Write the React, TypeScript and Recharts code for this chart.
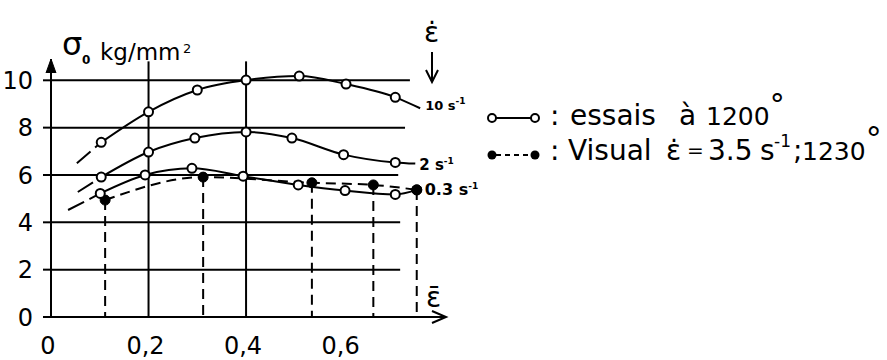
import React from 'react';
import { LineChart, Line, XAxis, YAxis, ReferenceLine, Legend, LabelList } from 'recharts';

// Strain (ε̄) and flow stress σ0 (kg/mm²) — tests at 1200° for three strain rates
const rate10X = [0.103, 0.2, 0.3, 0.4, 0.509, 0.605, 0.706];
const rate10Y = [7.38, 8.67, 9.59, 10.01, 10.18, 9.84, 9.28];
const rate10Lead = [0.053, 6.5];
const rate10Tail = [0.757, 8.82];

const rate2X = [0.103, 0.2, 0.295, 0.4, 0.494, 0.6, 0.706];
const rate2Y = [5.91, 6.97, 7.56, 7.82, 7.56, 6.86, 6.53];
const rate2Lead = [0.055, 5.28];
const rate2Tail = [0.747, 6.48];

const rate03X = [0.101, 0.193, 0.289, 0.394, 0.507, 0.603, 0.706];
const rate03Y = [5.22, 6.0, 6.28, 5.95, 5.58, 5.34, 5.18];
const rate03Lead = [0.035, 4.52];
const rate03Tail = [0.75, 5.37];

// Visual, ε̇ = 3.5 s⁻¹, 1230°
const visualX = [0.111, 0.312, 0.535, 0.661, 0.75];
const visualY = [4.94, 5.91, 5.67, 5.58, 5.37];

const xTicks = [0, 0.2, 0.4, 0.6];
const yTicks = [0, 2, 4, 6, 8, 10];
const gridY = [2, 4, 6, 8, 10];
const gridYEnd = [0.716, 0.716, 0.712, 0.726, 0.736];
const gridX = [0.2, 0.4, 0.6];
const gridXTop = [10.8, 10.8, 10.95];

const FONT = "'DejaVu Sans', sans-serif";

const mk = (xs: number[], ys: number[], tail: number[]) => [
  ...xs.map((x, i) => ({ x, y: ys[i], m: true })),
  { x: tail[0], y: tail[1], m: false },
];
const lead = (start: number[], xs: number[], ys: number[]) => [
  { x: start[0], y: start[1] },
  { x: xs[0], y: ys[0] },
];

const curve10 = mk(rate10X, rate10Y, rate10Tail);
const curve2 = mk(rate2X, rate2Y, rate2Tail);
const curve03 = mk(rate03X, rate03Y, rate03Tail);
const lead10 = lead(rate10Lead, rate10X, rate10Y);
const lead2 = lead(rate2Lead, rate2X, rate2Y);
const lead03 = lead(rate03Lead, rate03X, rate03Y);
const visual = visualX.map((x, i) => ({ x, y: visualY[i] }));

const openDot = (p: any) => {
  if (!p.payload || !p.payload.m) return <g key={`d${p.index}`} />;
  return <circle key={`d${p.index}`} cx={p.cx} cy={p.cy} r={4.5} fill="#fff" stroke="#000" strokeWidth={2} />;
};
const filledDot = (p: any) => (
  <circle key={`f${p.index}`} cx={p.cx} cy={p.cy} r={5} fill="#000" stroke="#000" strokeWidth={1} />
);

const endLabel = (num: string, last: number, dx: number, dy: number, fs: number) => (p: any) => {
  if (p.index !== last) return <g key={`l${p.index}`} />;
  const x = (p.x ?? p.viewBox?.x) + dx;
  const y = (p.y ?? p.viewBox?.y) + dy;
  return (
    <text key={`l${p.index}`} x={x} y={y} fontFamily={FONT} fontWeight="bold" fontSize={fs} fill="#000">
      {num} s<tspan dy={-6} fontSize={9}>-1</tspan>
    </text>
  );
};

const LegendBox = () => (
  <svg width={407} height={90} style={{ overflow: 'visible' }}>
    <line x1={16} y1={28} x2={51} y2={28} stroke="#000" strokeWidth={2} />
    <circle cx={12} cy={28} r={4} fill="#fff" stroke="#000" strokeWidth={2} />
    <circle cx={55} cy={28} r={4} fill="#fff" stroke="#000" strokeWidth={2} />
    <text y={35} fontFamily={FONT} fontSize={28} fill="#000">
      <tspan x={70}>:</tspan>
      <tspan x={90}>essais</tspan>
      <tspan x={199}>à</tspan>
      <tspan x={226} fontSize={25}>1200</tspan>
      <tspan dy={-10} fontSize={30}>°</tspan>
    </text>

    <line x1={16} y1={65} x2={51} y2={65} stroke="#000" strokeWidth={2} strokeDasharray="5 4" />
    <circle cx={12} cy={65} r={4.5} fill="#000" />
    <circle cx={55} cy={65} r={4.5} fill="#000" />
    <text y={70} fontFamily={FONT} fontSize={28} fill="#000">
      <tspan x={70}>:</tspan>
      <tspan x={88}>Visual</tspan>
      <tspan x={186}>{'\u03B5\u0307'}</tspan>
      <tspan x={207} fontSize={20} dy={-3}>=</tspan>
      <tspan x={228} dy={3}>3.5</tspan>
      <tspan x={280}>s</tspan>
      <tspan x={294} dy={-13} fontSize={17}>-1</tspan>
      <tspan x={313} dy={13}>;</tspan>
      <tspan x={322} fontSize={25}>1230</tspan>
      <tspan dy={-10} fontSize={32}>°</tspan>
    </text>
  </svg>
);

export default function App() {
  return (
    <div style={{ position: 'absolute', left: 0, top: 0, background: '#fff' }}>
      <LineChart width={887} height={360} margin={{ top: 59, right: 441, bottom: 0, left: 0 }}>
        <defs>
          <marker id="arrX" markerWidth={18} markerHeight={16} refX={15} refY={8} orient="auto" markerUnits="userSpaceOnUse">
            <path d="M1,2 L15,8 L1,14" fill="none" stroke="#000" strokeWidth={2} />
          </marker>
          <marker id="arrY" markerWidth={14} markerHeight={16} refX={14} refY={7} orient="auto-start-reverse" markerUnits="userSpaceOnUse">
            <path d="M0,2 L14,7 L0,12 Z" fill="#000" stroke="#000" strokeWidth={1} />
          </marker>
          <marker id="arrD" markerWidth={16} markerHeight={16} refX={13} refY={8} orient="auto" markerUnits="userSpaceOnUse">
            <path d="M1,2 L13,8 L1,14" fill="none" stroke="#000" strokeWidth={2} />
          </marker>
        </defs>
        <XAxis
          type="number"
          dataKey="x"
          domain={[0, 0.81]}
          ticks={xTicks}
          allowDataOverflow
          height={43}
          tickLine={false}
          tickSize={0}
          tickMargin={20}
          tickFormatter={(v: number) => String(v).replace('.', ',')}
          tick={{ fill: '#000', fontSize: 24, fontFamily: FONT, dx: -3 }}
          axisLine={{ stroke: '#000', strokeWidth: 2, markerEnd: 'url(#arrX)' }}
        />
        <YAxis
          type="number"
          domain={[0, 10.9]}
          ticks={yTicks}
          allowDataOverflow
          width={51}
          tickSize={8}
          tickMargin={10}
          tick={{ fill: '#000', fontSize: 24, fontFamily: FONT }}
          tickLine={{ stroke: '#000', strokeWidth: 2 }}
          axisLine={{ stroke: '#000', strokeWidth: 2, markerStart: 'url(#arrY)' }}
        />
        {gridY.map((v, i) => (
          <ReferenceLine key={`gy${v}`} segment={[{ x: 0, y: v }, { x: gridYEnd[i], y: v }]} stroke="#000" strokeWidth={2} />
        ))}
        {gridX.map((v, i) => (
          <ReferenceLine key={`gx${v}`} segment={[{ x: v, y: 0 }, { x: v, y: gridXTop[i] }]} stroke="#000" strokeWidth={2} />
        ))}
        {visualX.map((v, i) => (
          <ReferenceLine key={`dv${v}`} segment={[{ x: v, y: visualY[i] }, { x: v, y: 0 }]} stroke="#000" strokeWidth={2} strokeDasharray="10 6" />
        ))}

        <Line data={lead10} dataKey="y" type="linear" stroke="#000" strokeWidth={2} strokeDasharray="18 6" dot={false} isAnimationActive={false} legendType="none" />
        <Line data={lead2} dataKey="y" type="linear" stroke="#000" strokeWidth={2} strokeDasharray="18 6" dot={false} isAnimationActive={false} legendType="none" />
        <Line data={lead03} dataKey="y" type="linear" stroke="#000" strokeWidth={2} strokeDasharray="18 6" dot={false} isAnimationActive={false} legendType="none" />

        <Line data={visual} dataKey="y" name="Visual" type="monotone" stroke="#000" strokeWidth={2} strokeDasharray="10 6" dot={filledDot} isAnimationActive={false} />

        <Line data={curve10} dataKey="y" name="10 s-1" type="monotone" stroke="#000" strokeWidth={2} dot={openDot} isAnimationActive={false}>
          <LabelList dataKey="y" content={endLabel('10', curve10.length - 1, 5, 2, 13)} />
        </Line>
        <Line data={curve2} dataKey="y" name="2 s-1" type="monotone" stroke="#000" strokeWidth={2} dot={openDot} isAnimationActive={false}>
          <LabelList dataKey="y" content={endLabel('2', curve2.length - 1, 4, 6, 15)} />
        </Line>
        <Line data={curve03} dataKey="y" name="0.3 s-1" type="monotone" stroke="#000" strokeWidth={2} dot={openDot} isAnimationActive={false}>
          <LabelList dataKey="y" content={endLabel('0.3', curve03.length - 1, 8, 5, 16)} />
        </Line>
        <Line data={visual.slice(-1)} dataKey="y" type="monotone" stroke="none" dot={filledDot} isAnimationActive={false} legendType="none" />

        <Legend
          layout="vertical"
          align="center"
          verticalAlign="middle"
          wrapperStyle={{ left: 480, top: 90, width: 407, height: 90 }}
          content={() => <LegendBox />}
        />

        {/* axis titles */}
        <text x={62} y={55} fontFamily={FONT} fontSize={32} fill="#000">σ</text>
        <text x={82} y={64} fontFamily={FONT} fontSize={12} fontWeight="bold" fill="#000">0</text>
        <text x={100} y={60} fontFamily={FONT} fontSize={23} fill="#000">kg/mm</text>
        <text x={183} y={53} fontFamily={FONT} fontSize={13} fill="#000">2</text>

        <text x={424} y={42} fontFamily={FONT} fontSize={28} fill="#000">{'\u03B5\u0307'}</text>
        <line x1={432} y1={52} x2={432} y2={82} stroke="#000" strokeWidth={2} markerEnd="url(#arrD)" />

        <text x={426} y={307} fontFamily={FONT} fontSize={28} fill="#000">{'\u03B5\u0304'}</text>
      </LineChart>
    </div>
  );
}
